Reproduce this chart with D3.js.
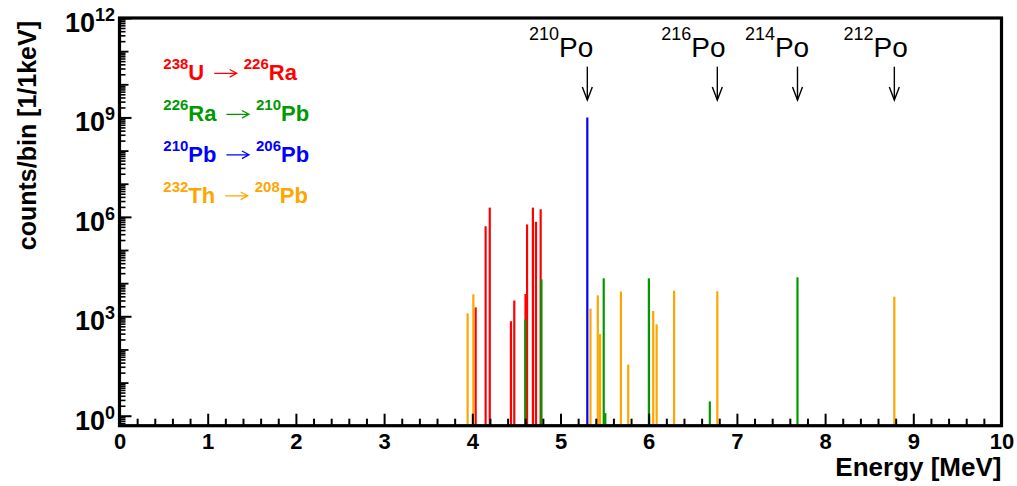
<!DOCTYPE html>
<html><head><meta charset="utf-8">
<script src="https://cdn.jsdelivr.net/npm/d3@7"></script>
<style>body{margin:0;background:#fff}svg{display:block}</style>
</head><body>
<svg id="c" width="1017" height="486"></svg>
<script>
// ---- data ----
const uEnergies  = [4.038, 4.151, 4.198, 4.438, 4.476, 4.603, 4.621, 4.687, 4.722, 4.775];
const uCounts    = [1850, 5.2e5, 1.9e6, 710, 3000, 4700, 5.9e5, 1.9e6, 7.1e5, 1.7e6];
const raEnergies = [4.601, 4.784, 5.490, 5.508, 6.002, 6.693, 7.687];
const raCounts   = [810, 1.3e4, 1.4e4, 1.2, 1.4e4, 2.7, 1.5e4];
const pbEnergies = [5.304];
const pbCounts   = [1e9];
const thEnergies = [3.947, 4.012, 5.340, 5.423, 5.449, 5.685, 5.768, 6.051, 6.090, 6.288, 6.778, 8.785];
const thCounts   = [1230, 4600, 1700, 4300, 290, 5600, 35, 1440, 570, 5900, 5700, 3900];

const legendFrom   = [["238","U"], ["226","Ra"], ["210","Pb"], ["232","Th"]];
const legendTo     = [["226","Ra"], ["210","Pb"], ["206","Pb"], ["208","Pb"]];
const seriesColors = ["#ff0000", "#009900", "#0000ff", "#ffa500"];

const poMass     = ["210", "216", "214", "212"];
const poEnergies = [5.304, 6.778, 7.687, 8.785];

const xMajorTicks = [0,1,2,3,4,5,6,7,8,9,10];
const yLabelExps  = [0,3,6,9,12];
const xTitle = "Energy [MeV]";
const yTitle = "counts/bin [1/1keV]";

// ---- layout ----
const FONT = "'Liberation Sans', Arial, Helvetica, sans-serif";
const L = 119.5, R = 1001.5, T = 18, B = 425.7;
const svg = d3.select("#c");
const x = d3.scaleLinear().domain([0, 10]).range([L, R]);
const y = d3.scaleLog().domain([0.5, 1e12]).range([B, T]);

// ---- spikes ----
const series = [
  [uEnergies, uCounts], [raEnergies, raCounts], [pbEnergies, pbCounts], [thEnergies, thCounts]
];
series.forEach(([es, cs], i) => {
  svg.append("g").selectAll("line").data(es.map((e, k) => [e, cs[k]])).join("line")
    .attr("x1", d => x(d[0])).attr("x2", d => x(d[0]))
    .attr("y1", B).attr("y2", d => y(d[1]))
    .attr("stroke", seriesColors[i]).attr("stroke-width", 2.2);
});

// ---- x axis ----
const minorX = d3.range(0, 10.0001, 0.2).filter(v => Math.abs(v - Math.round(v)) > 1e-6);
svg.append("g").attr("transform", `translate(0,${B})`)
  .call(d3.axisBottom(x).tickValues(minorX).tickSize(-7).tickFormat(""))
  .call(g => g.select(".domain").remove())
  .call(g => g.selectAll("line").attr("stroke", "#000").attr("stroke-width", 2));
svg.append("g").attr("transform", `translate(0,${B})`)
  .call(d3.axisBottom(x).tickValues(xMajorTicks).tickSize(-12).tickPadding(7.6).tickFormat(d3.format("d")))
  .call(g => g.select(".domain").remove())
  .call(g => g.selectAll("line").attr("stroke", "#000").attr("stroke-width", 2))
  .call(g => g.selectAll("text").attr("fill", "#000").style("font-family", FONT)
      .style("font-size", "22px").style("font-weight", "bold"));

// ---- y axis ----
const minorY = [];
for (let n = -1; n < 12; n++) for (let m = 2; m <= 9; m++) {
  const v = m * Math.pow(10, n);
  if (v >= 0.5 && v < 1e12) minorY.push(v);
}
const midY = d3.range(1, 12).filter(n => !yLabelExps.includes(n)).map(n => Math.pow(10, n));
svg.append("g").attr("transform", `translate(${L},0)`)
  .call(d3.axisLeft(y).tickValues(minorY).tickSize(-6).tickFormat(""))
  .call(g => g.select(".domain").remove())
  .call(g => g.selectAll("line").attr("stroke", "#000").attr("stroke-width", 1.6));
svg.append("g").attr("transform", `translate(${L},0)`)
  .call(d3.axisLeft(y).tickValues(midY).tickSize(-9).tickFormat(""))
  .call(g => g.select(".domain").remove())
  .call(g => g.selectAll("line").attr("stroke", "#000").attr("stroke-width", 1.8));
const yl = svg.append("g").attr("transform", `translate(${L},0)`)
  .call(d3.axisLeft(y).tickValues(yLabelExps.map(e => Math.pow(10, e))).tickSize(-12).tickPadding(4.5)
      .tickFormat(d => String(Math.round(Math.log10(d)))))
  .call(g => g.select(".domain").remove())
  .call(g => g.selectAll("line").attr("stroke", "#000").attr("stroke-width", 2));
yl.selectAll("text").each(function () {
  const t = d3.select(this);
  const exp = t.text();
  t.text(null).attr("dy", null).attr("y", 13.5).attr("fill", "#000")
    .style("font-family", FONT).style("font-weight", "bold");
  t.append("tspan").style("font-size", "27px").text("10");
  t.append("tspan").style("font-size", "18px").attr("dy", -11).text(exp);
});

// ---- frame ----
svg.append("rect").attr("x", L).attr("y", T).attr("width", R - L).attr("height", B - T)
  .attr("fill", "none").attr("stroke", "#000").attr("stroke-width", 3.2);

// ---- axis titles ----
svg.append("text").attr("x", R).attr("y", 476).attr("text-anchor", "end")
  .style("font-family", FONT).style("font-size", "26px").style("font-weight", "bold").text(xTitle);
svg.append("text").attr("transform", "translate(36,21) rotate(-90)").attr("text-anchor", "end")
  .style("font-family", FONT).style("font-size", "25px").style("font-weight", "bold").text(yTitle);

// ---- legend ----
const legBase = [80, 121, 161.5, 202.5];
legendFrom.forEach((fr, i) => {
  const c = seriesColors[i];
  const g = svg.append("g").attr("fill", c)
    .style("font-family", FONT).style("font-weight", "bold");
  const t1 = g.append("text").attr("x", 163.3).attr("y", legBase[i]);
  t1.append("tspan").style("font-size", "15px").attr("dy", -11).text(fr[0]);
  t1.append("tspan").style("font-size", "22px").attr("dy", 11).text(fr[1]);
  const w1 = t1.node().getComputedTextLength();
  const ax = 163.3 + w1 + 10, aw = 22.5, ay = legBase[i] - 6.7;
  g.append("path")
    .attr("d", `M${ax},${ay} L${ax + aw},${ay} M${ax + aw - 7},${ay - 3.8} L${ax + aw},${ay} L${ax + aw - 7},${ay + 3.8}`)
    .attr("fill", "none").attr("stroke", c).attr("stroke-width", 1.3);
  const t2 = g.append("text").attr("x", ax + aw + 7).attr("y", legBase[i]);
  t2.append("tspan").style("font-size", "15px").attr("dy", -11).text(legendTo[i][0]);
  t2.append("tspan").style("font-size", "22px").attr("dy", 11).text(legendTo[i][1]);
});

// ---- Po markers ----
const poShift = [6, 8.3, 11.7, 13.4];
poEnergies.forEach((e, i) => {
  const px = x(e);
  const lab = svg.append("text").attr("text-anchor", "end")
    .attr("x", px + poShift[i]).attr("y", 57)
    .style("font-family", FONT).attr("fill", "#000");
  lab.append("tspan").style("font-size", "18px").attr("dy", -17).text(poMass[i]);
  lab.append("tspan").style("font-size", "28px").attr("dy", 17).text("Po");
  svg.append("line").attr("x1", px).attr("x2", px).attr("y1", 66.7).attr("y2", 100)
    .attr("stroke", "#000").attr("stroke-width", 1.4);
  svg.append("path").attr("d", `M${px - 5},87 L${px},100 L${px + 5},87`)
    .attr("fill", "none").attr("stroke", "#000").attr("stroke-width", 1.4);
});
</script>
</body></html>
